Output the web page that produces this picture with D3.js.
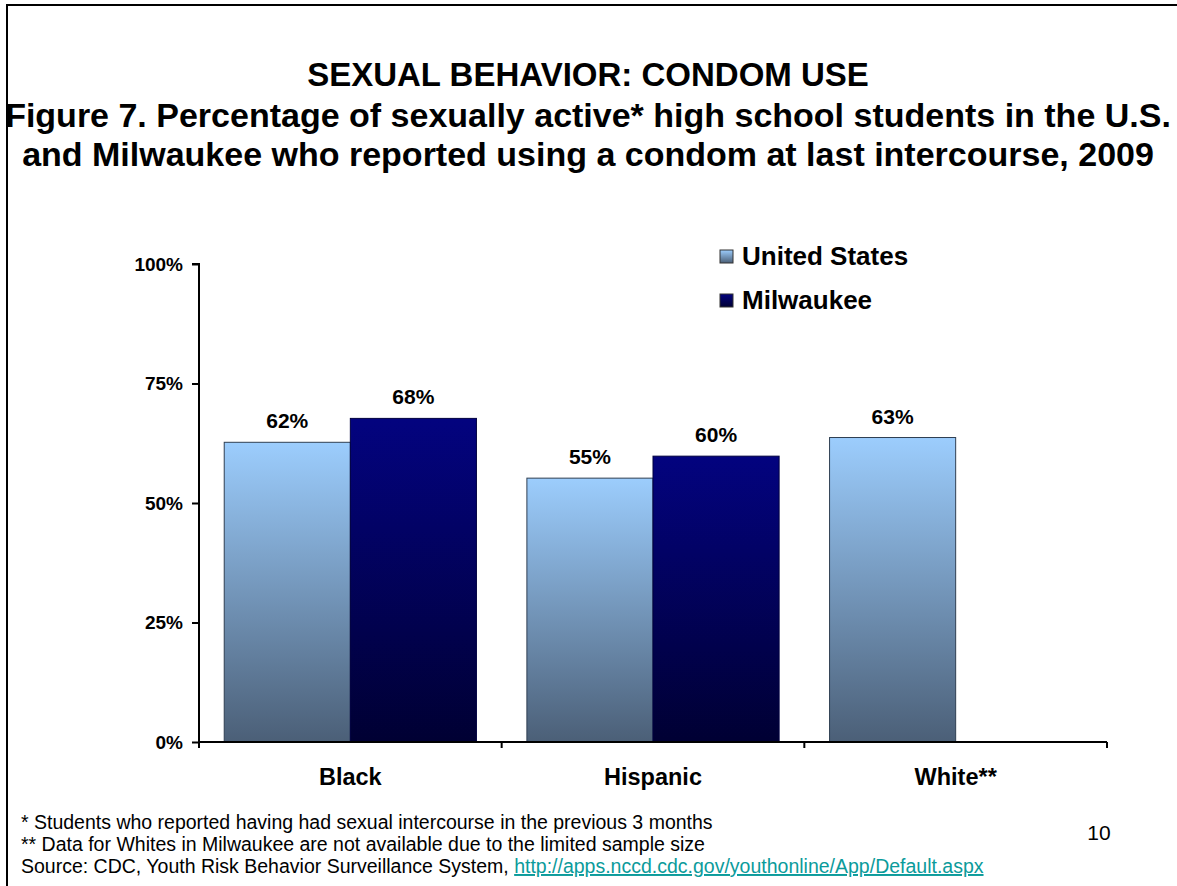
<!DOCTYPE html>
<html>
<head>
<meta charset="utf-8">
<script src="https://cdn.jsdelivr.net/npm/d3@7"></script>
<style>
  body { margin: 0; background: #fff; }
  svg { display: block; font-family: "Liberation Sans", Arial, sans-serif; }
</style>
</head>
<body>
<svg id="chart" width="1177" height="886"></svg>
<script>
// data
const groups = ["Black", "Hispanic", "White**"];
const seriesNames = ["United States", "Milwaukee"];
const usValues = [62.7, 55.2, 63.7];
const milValues = [67.7, 59.8, null];
const usLabels = ["62%", "55%", "63%"];
const milLabels = ["68%", "60%", ""];
const yTicks = [0, 25, 50, 75, 100];
const footnotes = [
  "* Students who reported having had sexual intercourse in the previous 3 months",
  "** Data for Whites in Milwaukee are not available due to the limited sample size"
];

const svg = d3.select("#chart");
const margin = { top: 264, left: 199, right: 70, bottom: 144 };
const width = 1177 - margin.left - margin.right,
  height = 886 - margin.top - margin.bottom;

// slide frame (open on right and bottom)
svg.append("path")
  .attr("d", "M7,886 L7,5 L1177,5")
  .attr("fill", "none")
  .attr("stroke", "#000")
  .attr("stroke-width", 2);

// titles
const titles = [
  { t: "SEXUAL BEHAVIOR: CONDOM USE", y: 86, s: 33 },
  { t: "Figure 7. Percentage of sexually active* high school students in the U.S.", y: 127, s: 34 },
  { t: "and Milwaukee who reported using a condom at last intercourse, 2009", y: 166, s: 34 }
];
svg.selectAll(".title").data(titles).enter().append("text")
  .attr("x", 588).attr("y", d => d.y)
  .attr("text-anchor", "middle")
  .attr("font-weight", "bold")
  .attr("font-size", d => d.s + "px")
  .text(d => d.t);

const g = svg.append("g").attr("transform", `translate(${margin.left},${margin.top})`);

const x0 = d3.scaleBand().domain(groups).range([0, width]).paddingInner(0).paddingOuter(0);
const x1 = d3.scaleBand().domain(seriesNames).range([0, x0.bandwidth()]).paddingInner(0).paddingOuter(0.2);
const y = d3.scaleLinear().domain([0, 100]).range([height, 0]);

const defs = svg.append("defs");
const gradUS = defs.append("linearGradient").attr("id", "gUS").attr("x1", 0).attr("y1", 0).attr("x2", 0).attr("y2", 1);
gradUS.append("stop").attr("offset", "0%").attr("stop-color", "#9ccdfd");
gradUS.append("stop").attr("offset", "100%").attr("stop-color", "#4b5f77");
const gradMil = defs.append("linearGradient").attr("id", "gMil").attr("x1", 0).attr("y1", 0).attr("x2", 0).attr("y2", 1);
gradMil.append("stop").attr("offset", "0%").attr("stop-color", "#03037f");
gradMil.append("stop").attr("offset", "100%").attr("stop-color", "#000033");

const rows = groups.map((grp, i) => ({
  grp,
  bars: [
    { s: "United States", v: usValues[i], lab: usLabels[i], fill: "url(#gUS)", stroke: "#2f3f52" },
    { s: "Milwaukee", v: milValues[i], lab: milLabels[i], fill: "url(#gMil)", stroke: "#000040" }
  ].filter(b => b.v != null)
}));

const grp = g.selectAll(".grp").data(rows).enter().append("g")
  .attr("transform", d => `translate(${x0(d.grp)},0)`);

grp.selectAll("rect").data(d => d.bars).enter().append("rect")
  .attr("x", d => x1(d.s))
  .attr("width", x1.bandwidth())
  .attr("y", d => y(d.v))
  .attr("height", d => height - y(d.v))
  .attr("fill", d => d.fill)
  .attr("stroke", d => d.stroke)
  .attr("stroke-width", 1);

grp.selectAll(".val").data(d => d.bars).enter().append("text")
  .attr("x", d => x1(d.s) + x1.bandwidth() / 2)
  .attr("y", d => y(d.v) - 14)
  .attr("text-anchor", "middle")
  .attr("font-weight", "bold")
  .attr("font-size", "21px")
  .text(d => d.lab);

// y axis
const yAxis = g.append("g")
  .call(d3.axisLeft(y).tickValues(yTicks).tickFormat(d => d + "%").tickSize(7).tickPadding(9));
yAxis.select(".domain").attr("stroke-width", 2).attr("d", `M-7,0H0V${height + 6}`);
yAxis.selectAll(".tick line").attr("stroke-width", 2);
yAxis.selectAll("text").attr("font-size", "19px").attr("font-weight", "bold").attr("font-family", "Liberation Sans, Arial, sans-serif");

// x axis
const xAxis = g.append("g").attr("transform", `translate(0,${height})`);
xAxis.append("line").attr("x1", 0).attr("x2", width).attr("stroke", "#000").attr("stroke-width", 2);
xAxis.selectAll(".xt").data(groups.map(d => x0(d)).concat([width])).enter().append("line")
  .attr("x1", d => d).attr("x2", d => d).attr("y1", 0).attr("y2", 6)
  .attr("stroke", "#000").attr("stroke-width", 2);
xAxis.selectAll(".xl").data(groups).enter().append("text")
  .attr("x", d => x0(d) + x0.bandwidth() / 2)
  .attr("y", 43)
  .attr("text-anchor", "middle")
  .attr("font-weight", "bold")
  .attr("font-size", "23.5px")
  .text(d => d);

// legend
const legend = svg.append("g").attr("transform", "translate(720,250)");
const legItems = legend.selectAll("g").data(seriesNames).enter().append("g")
  .attr("transform", (d, i) => `translate(0,${i * 44})`);
legItems.append("rect")
  .attr("width", 13).attr("height", 13)
  .attr("fill", (d, i) => i === 0 ? "url(#gUS)" : "url(#gMil)")
  .attr("stroke", "#333").attr("stroke-width", 1);
legItems.append("text")
  .attr("x", 22).attr("y", 15)
  .attr("font-weight", "bold")
  .attr("font-size", "26px")
  .text(d => d);

// footnotes
svg.selectAll(".fn").data(footnotes).enter().append("text")
  .attr("x", 21).attr("y", (d, i) => 829 + i * 22)
  .attr("font-size", "19.5px")
  .text(d => d);
const src = svg.append("text").attr("x", 21).attr("y", 873).attr("font-size", "19.5px");
src.append("tspan").text("Source: CDC, Youth Risk Behavior Surveillance System, ");
src.append("tspan").attr("fill", "#0b9b9b").attr("text-decoration", "underline")
  .text("http://apps.nccd.cdc.gov/youthonline/App/Default.aspx");

svg.append("text").attr("x", 1099).attr("y", 840)
  .attr("text-anchor", "middle").attr("font-size", "21px").text("10");
</script>
</body>
</html>
